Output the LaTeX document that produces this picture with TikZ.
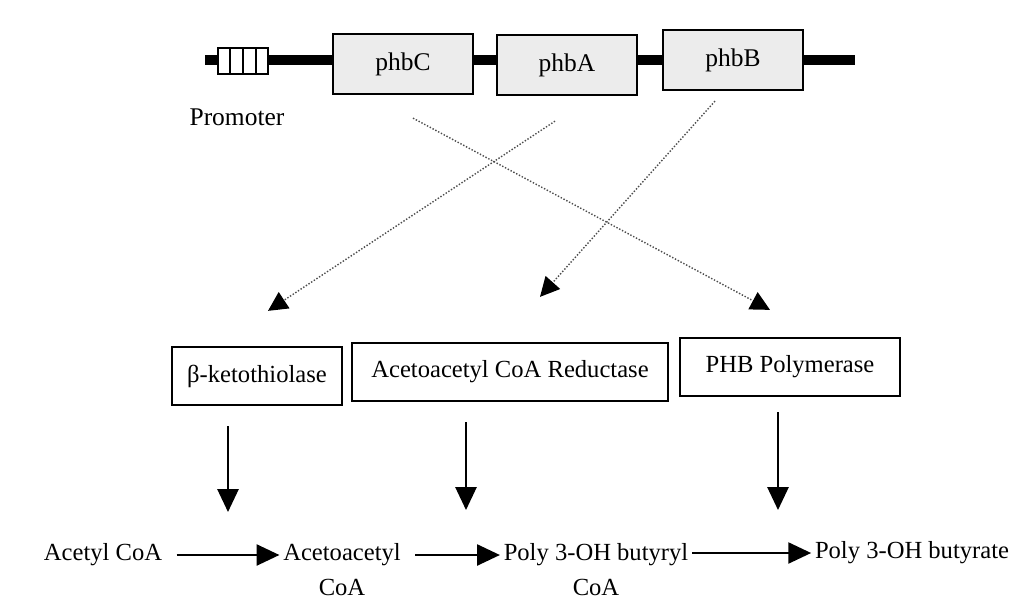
\documentclass[tikz,border=0pt]{standalone}
\usepackage{fontspec}
\setmainfont{Liberation Serif}
\usetikzlibrary{arrows.meta,calc}

\begin{document}
\begin{tikzpicture}[x=0.02cm,y=-0.02cm,>=Triangle,
    gene/.style={draw,line width=1.3pt,fill=gray!15,minimum width=2.8cm,minimum height=1.2cm,font=\fontsize{14.5}{17}\selectfont},
    enzyme/.style={draw,line width=1.3pt,fill=white,minimum height=1.16cm,font=\fontsize{14}{17}\selectfont},
    chem/.style={align=center,font=\fontsize{14}{20}\selectfont,inner sep=2pt},
    flow/.style={-{Triangle[length=13pt,width=12pt]},line width=1.2pt},
    link/.style={-{Triangle[length=11pt,width=11pt,black]},densely dotted,gray!60!black,line width=0.8pt}]
      \useasboundingbox (0,0) rectangle (1017,605);

      % the operon
      \draw[line width=5.6pt] (205,60) -- (855,60);
      \node[draw,fill=white,line width=1.1pt,minimum width=1cm,minimum height=0.52cm,inner sep=0pt] (prom) at (243,61) {};
      \foreach \i in {1,2,3}
        \draw[line width=1.1pt] ($(prom.north west)!\i/4!(prom.north east)$) -- ($(prom.south west)!\i/4!(prom.south east)$);
      \node[font=\fontsize{14.5}{17}\selectfont] (promlabel) at (237,117) {Promoter};

      \node[gene] (phbC) at (403,64) {phbC};
      \node[gene] (phbA) at (567,65) {phbA};
      \node[gene] (phbB) at (733,60) {phbB};

      % enzymes
      \node[enzyme,minimum width=3.4cm] (kt) at (257,376) {β-ketothiolase};
      \node[enzyme,minimum width=6.32cm] (red) at (510,372) {Acetoacetyl CoA Reductase};
      \node[enzyme,minimum width=4.4cm] (pol) at (790,367) {PHB Polymerase};

      % genes code for enzymes
      \draw[link] ($(phbC.south)+(10,23)$) -- ($(pol.north)+(-20,-27)$);
      \draw[link] ($(phbA.south)+(-12,25)$) -- ($(kt.north)+(11,-35)$);
      \draw[link] ($(phbB.south)+(-18,10)$) -- ($(red.north)+(30,-45)$);

      % pathway
      \node[chem] (acetyl) at (103,555) {Acetyl CoA};
      \node[chem] (aceto) at (342,570) {Acetoacetyl\\CoA};
      \node[chem] (butyryl) at (596,570) {Poly 3-OH butyryl\\CoA};
      \node[chem] (butyrate) at (912,553) {Poly 3-OH butyrate};

      \draw[flow] ([xshift=6pt]acetyl.east) -- (acetyl.east -| aceto.west);
      \draw[flow] ([xshift=6pt]aceto.east |- acetyl.east) -- (acetyl.east -| butyryl.west);
      \draw[flow] (butyryl.east |- butyrate.west) -- (butyrate.west);

      % enzymes act on the steps
      \coordinate (t1) at (228,512);
      \coordinate (t2) at (466,510);
      \coordinate (t3) at (778,510);
      \draw[flow] (kt.south -| t1) ++(0,20) -- (t1);
      \draw[flow] (red.south -| t2) ++(0,20) -- (t2);
      \draw[flow] (pol.south -| t3) ++(0,15) -- (t3);
    \end{tikzpicture}
\end{document}
